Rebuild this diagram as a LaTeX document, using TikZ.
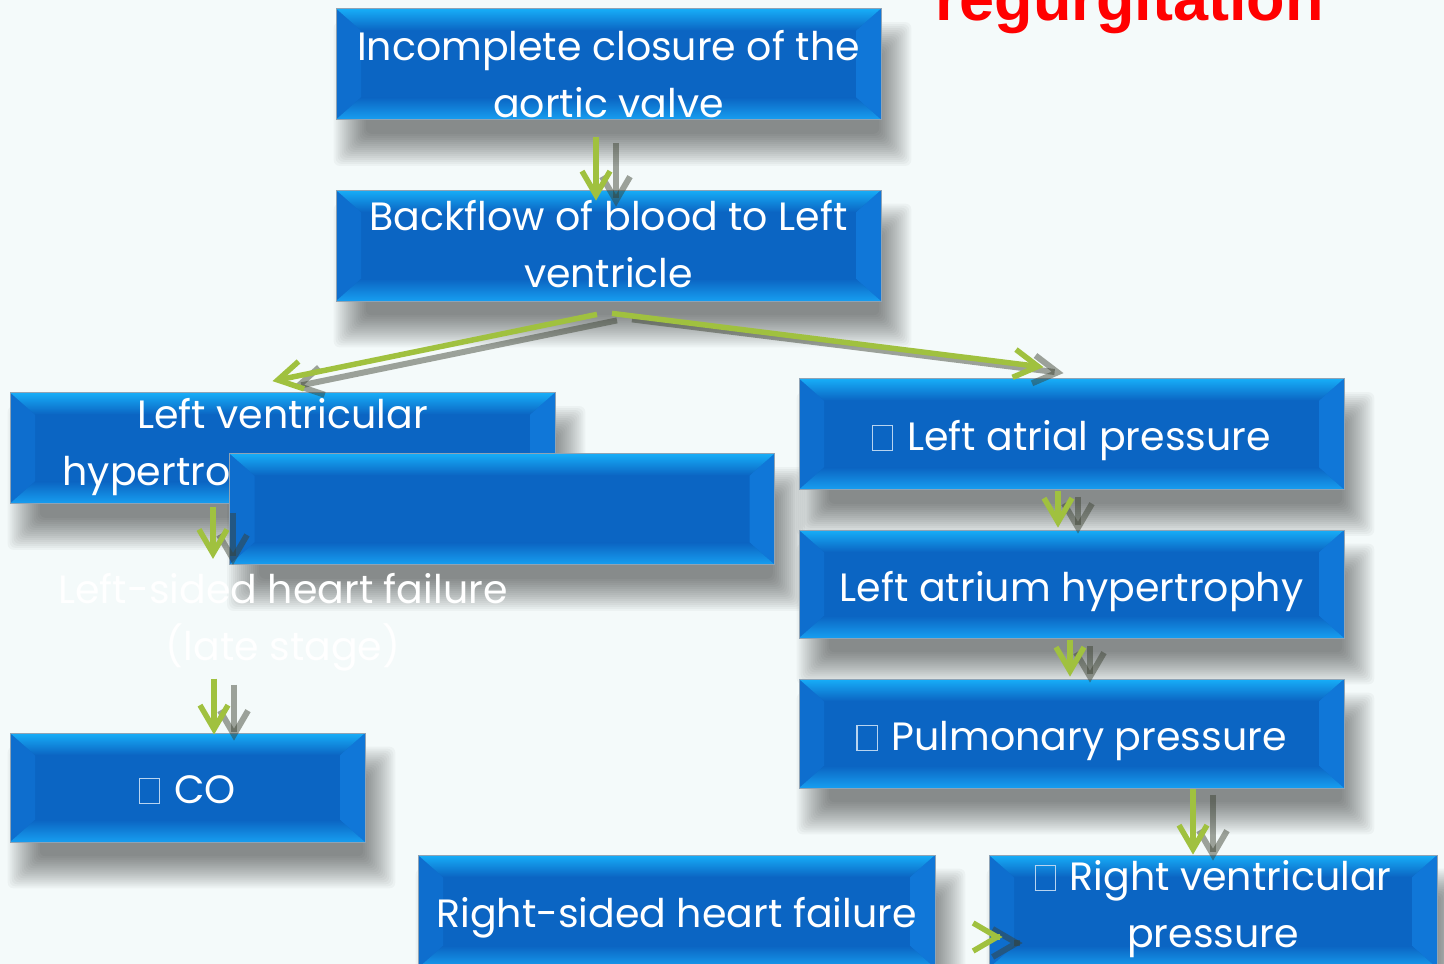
\documentclass[tikz,border=0pt]{standalone}
\usepackage{fontspec}
\usetikzlibrary{arrows.meta,calc}
\newfontfamily\boxfont{Poppins}
\newfontfamily\titlefont{Liberation Sans}

\definecolor{pagebg}{HTML}{F4FAFA}
\definecolor{boxmid}{HTML}{0B65C3}
\definecolor{bevhi}{HTML}{17AEF8}
\definecolor{bevlo}{HTML}{179EF0}
\definecolor{sideL}{HTML}{0E6ECE}
\definecolor{sideR}{HTML}{1077D8}
\definecolor{boxedge}{HTML}{8FA3B5}
\definecolor{tofu}{HTML}{B8D4F0}
\definecolor{flowgreen}{HTML}{A0C13F}
\definecolor{flowshade}{HTML}{3A4030}
\definecolor{titlered}{HTML}{FF0000}

\pgfdeclarelayer{boxshadow}
\pgfsetlayers{boxshadow,main}

% empty rectangle standing for a glyph the slide font could not show
\newcommand\glyphbox{{\color{tofu}\fboxsep=0pt\fboxrule=1.1pt\fbox{\rule{0pt}{24pt}\hspace{19pt}}}\hspace{14pt}}

% soft drop shadow under a box, built from stacked translucent rectangles
\newcommand\softshadow[1]{%
  \begin{pgfonlayer}{boxshadow}
    \foreach \g in {-16,-14,...,16}
      \fill[black, fill opacity=0.031, rounded corners=6pt]
        ($(#1.north west)+({14-(\g)},{30-(\g)})$) rectangle
        ($(#1.south east)+({14+(\g)},{30+(\g)})$);
  \end{pgfonlayer}}

% green connector between two named points, with its offset shadow
\newcommand\flowarrow[2]{%
  \draw[arrowshade] ([shift={(20pt,-6pt)}]#1) -- ([shift={(20pt,-6pt)}]#2);
  \draw[arrowgreen] (#1) -- (#2);
}

\tikzset{
  bevel/.style={path picture={
    \coordinate (bNW) at (path picture bounding box.north west);
    \coordinate (bNE) at (path picture bounding box.north east);
    \coordinate (bSW) at (path picture bounding box.south west);
    \coordinate (bSE) at (path picture bounding box.south east);
    \fill[sideL] (bNW) -- ([shift={(25pt,-22pt)}]bNW) -- ([shift={(25pt,22pt)}]bSW) -- (bSW) -- cycle;
    \fill[sideR] (bNE) -- ([shift={(-25pt,-22pt)}]bNE) -- ([shift={(-25pt,22pt)}]bSE) -- (bSE) -- cycle;
    \shade[top color=bevhi, bottom color=boxmid] (bNW) -- (bNE) -- ([shift={(-25pt,-22pt)}]bNE) -- ([shift={(25pt,-22pt)}]bNW) -- cycle;
    \shade[top color=boxmid, bottom color=bevlo] ([shift={(25pt,22pt)}]bSW) -- ([shift={(-25pt,22pt)}]bSE) -- (bSE) -- (bSW) -- cycle;
  }},
  box/.style={draw=boxedge, line width=0.8pt, fill=boxmid, bevel,
    minimum width=545pt, minimum height=111pt, inner sep=0pt},
  % anchored on the baseline of the last line
  boxtext/.style={inner sep=0pt, anchor=base, align=center, text=white,
    font=\boxfont\fontsize{39.5}{57}\selectfont},
  arrowgreen/.style={draw=flowgreen, line width=5.5pt,
    -{Straight Barb[length=24pt, width=28pt]}},
  arrowshade/.style={draw=flowshade, draw opacity=0.48, line width=6pt,
    -{Straight Barb[length=24pt, width=28pt]}},
}

\begin{document}
\begin{tikzpicture}[x=1pt, y=-1pt]
  \useasboundingbox (0,0) rectangle (1444,964);
  \clip (0,0) rectangle (1444,964);
  \begin{pgfonlayer}{boxshadow}
    \fill[pagebg] (0,0) rectangle (1444,964);
  \end{pgfonlayer}

  % heading, running off the top edge
  \node[anchor=base west, inner sep=0pt, text=titlered,
        font=\titlefont\bfseries\fontsize{63}{70}\selectfont] (title) at (935,20) {regurgitation};

  % left-hand chain
  \node[box] (valve) at (608.5,64) {};
  \softshadow{valve}
  \node[boxtext] (valvetxt) at ([yshift=-53pt]valve.center) {Incomplete closure of the\\aortic valve};

  \node[box] (back) at (608.5,245.5) {};
  \softshadow{back}
  \node[boxtext] (backtxt) at ([yshift=-41.5pt]back.center) {Backflow of blood to Left\\ventricle};

  \node[box] (lvh) at (282.5,448) {};
  \softshadow{lvh}
  \node[boxtext] (lvhtxt) at ([yshift=-37pt]lvh.center) {Left ventricular\\hypertrophy \& dilation};

  \node[box] (blank) at (502,509) {};
  \softshadow{blank}

  \node[boxtext] (lsf) at (283,660) {Left-sided heart failure\\(late stage)};

  \node[box, minimum width=355pt, minimum height=109pt] (co) at (187.5,787.5) {};
  \softshadow{co}
  \node[boxtext] (cotxt) at ([yshift=-15.5pt]co.center) {\glyphbox CO};

  % right-hand chain
  \node[box] (lap) at (1071.5,434) {};
  \softshadow{lap}
  \node[boxtext] (laptxt) at ([yshift=-16pt]lap.center) {\glyphbox Left atrial pressure};

  \node[box, minimum height=108pt] (lah) at (1071.5,584) {};
  \softshadow{lah}
  \node[boxtext] (lahtxt) at ([yshift=-17pt]lah.center) {Left atrium hypertrophy};

  \node[box, minimum height=109pt] (pp) at (1071.5,733.5) {};
  \softshadow{pp}
  \node[boxtext] (pptxt) at ([yshift=-16.5pt]pp.center) {\glyphbox Pulmonary pressure};

  \node[box, minimum width=517pt, minimum height=113pt] (rshf) at (676.5,911.5) {};
  \softshadow{rshf}
  \node[boxtext] (rshftxt) at ([yshift=-15.5pt]rshf.center) {Right-sided heart failure};

  \node[box, minimum width=448pt, minimum height=113pt] (rvp) at (1213,911.5) {};
  \softshadow{rvp}
  \node[boxtext] (rvptxt) at ([yshift=-35.5pt]rvp.center) {\glyphbox Right ventricular\\pressure};

  % connector end points
  \coordinate (a1s) at ([shift={(-12.5pt,-17pt)}]valve.south);
  \coordinate (a1e) at ([shift={(-12.5pt,-11pt)}]back.north);
  \coordinate (a2s) at ([shift={(-11.5pt,-13pt)}]back.south);
  \coordinate (a2e) at ([shift={(-10pt,11pt)}]lvh.north);
  \coordinate (a3s) at ([shift={(3.5pt,-12pt)}]back.south);
  \coordinate (a3e) at ([shift={(-28pt,11pt)}]lap.north);
  \coordinate (a4s) at ([shift={(-69.5pt,-3pt)}]lvh.south);
  \coordinate (a4e) at ([shift={(-69.5pt,-55pt)}]lvh.south);
  \coordinate (a5s) at ([shift={(26.5pt,54pt)}]co.north);
  \coordinate (a5e) at ([shift={(26.5pt,-2pt)}]co.north);
  \coordinate (a6s) at ([shift={(-13.5pt,-1pt)}]lap.south);
  \coordinate (a6e) at ([shift={(-13.5pt,2pt)}]lah.north);
  \coordinate (a7s) at ([shift={(-1.5pt,-2pt)}]lah.south);
  \coordinate (a7e) at ([shift={(-1.5pt,2pt)}]pp.north);
  \coordinate (a8s) at ([shift={(-20pt,66pt)}]rvp.north);
  \coordinate (a8e) at ([shift={(-20pt,0pt)}]rvp.north);
  \coordinate (a9s) at ([shift={(11pt,-25.5pt)}]rvp.west);
  \coordinate (a9e) at ([shift={(14pt,-25.5pt)}]rvp.west);

  % connectors
  \flowarrow{a1s}{a1e}
  \flowarrow{a2s}{a2e}
  \flowarrow{a3s}{a3e}
  \flowarrow{a4s}{a4e}
  \flowarrow{a5s}{a5e}
  \flowarrow{a6s}{a6e}
  \flowarrow{a7s}{a7e}
  \flowarrow{a8s}{a8e}
  \flowarrow{a9s}{a9e}
\end{tikzpicture}
\end{document}
